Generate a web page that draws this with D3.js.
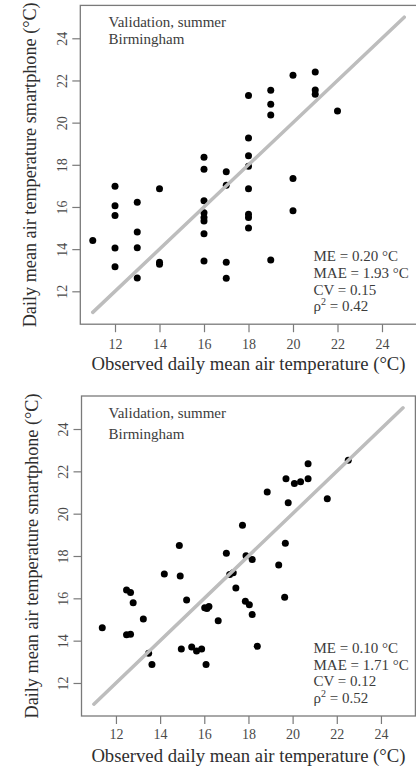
<!DOCTYPE html>
<html>
<head>
<meta charset="utf-8">
<script src="https://cdn.jsdelivr.net/npm/d3@7"></script>
<style>
    body { margin: 0; background: #fff; }
    svg text { font-family: "Liberation Serif", "Times New Roman", serif; }
</style>
</head>
<body>
<div id="my_dataviz"></div>
<script>
// panel 1 : observed (x) vs smartphone (y)
var obs1 = [11, 12, 12, 12, 12, 12, 13, 13, 13, 13, 14, 14, 14,
    16, 16, 16, 16, 16, 16, 16, 16, 17, 17, 17, 17,
    18, 18, 18, 18, 18, 18, 18, 18, 19, 19, 19, 19,
    20, 20, 20, 21, 21, 21, 22];
var phone1 = [14.41, 16.98, 16.06, 15.59, 14.05, 13.17, 16.22, 14.81, 14.06, 12.63, 16.87, 13.38, 13.28,
    18.36, 17.79, 16.29, 15.72, 15.50, 15.33, 14.73, 13.44, 17.67, 17.03, 13.38, 12.62,
    21.29, 19.27, 18.43, 17.93, 16.86, 15.66, 15.50, 15.0, 21.54, 20.87, 20.36, 13.49,
    22.25, 17.35, 15.82, 22.40, 21.55, 21.35, 20.55];

// panel 2
var obs2 = [20.70, 19.70, 20.70, 20.08, 20.36, 18.85, 19.80, 21.57, 22.52, 17.73,
    14.87, 17.0, 17.89, 18.17, 19.67, 19.37, 14.19, 14.91, 17.31, 17.15,
    17.43, 12.48, 12.66, 12.78, 15.20, 16.02, 16.21, 16.12, 16.63, 17.86,
    18.04, 18.17, 19.64, 13.24, 11.38, 12.48, 12.66, 13.48, 13.63, 14.96,
    15.43, 15.65, 15.88, 16.08, 18.40];
var phone2 = [22.36, 21.65, 21.65, 21.43, 21.51, 21.02, 20.52, 20.71, 22.53, 19.45,
    18.50, 18.13, 18.01, 17.84, 18.60, 17.57, 17.15, 17.05, 17.21, 17.12,
    16.49, 16.39, 16.27, 15.79, 15.92, 15.56, 15.61, 15.52, 14.94, 15.86,
    15.70, 15.23, 16.05, 15.02, 14.61, 14.28, 14.30, 13.40, 12.87, 13.61,
    13.70, 13.51, 13.61, 12.87, 13.73];

var ticks = [12, 14, 16, 18, 20, 22, 24];
var oneToOne = [11, 25];
var titles = ["Validation, summer", "Birmingham"];
var stats1 = ["ME = 0.20 °C", "MAE = 1.93 °C", "CV = 0.15", "0.42"];
var stats2 = ["ME = 0.10 °C", "MAE = 1.71 °C", "CV = 0.12", "0.52"];

var xLabel = "Observed daily mean air temperature (°C)";
var yLabel = "Daily mean air temperature smartphone (°C)";

var width = 416, height = 766;

var svg = d3.select("#my_dataviz")
    .append("svg")
    .attr("width", width)
    .attr("height", height);

// pixel boxes for the two panels (R style axis, 4% padding round 11..25)
var panels = [
    { x: obs1, y: phone1, stats: stats1, left: 80.3, right: 416.7, top: 5.4, bottom: 324.2,
      tickY: 25, titleY: 27.3, titleGap: 17 },
    { x: obs2, y: phone2, stats: stats2, left: 81.5, right: 415.4, top: 396, bottom: 716,
      tickY: 22.5, titleY: 417.7, titleGap: 21.6 }
];

panels.forEach(p => {
    var x = d3.scaleLinear().domain([10.44, 25.56]).range([p.left, p.right]);
    var y = d3.scaleLinear().domain([10.44, 25.56]).range([p.bottom, p.top]);

    var g = svg.append("g");

    // frame
    g.append("rect")
        .attr("x", p.left)
        .attr("y", p.top)
        .attr("width", p.right - p.left)
        .attr("height", p.bottom - p.top)
        .attr("fill", "none")
        .attr("stroke", "#7a7a7a")
        .attr("stroke-width", 1.3);

    // x axis
    var gx = g.append("g")
        .attr("transform", "translate(0," + p.bottom + ")")
        .call(d3.axisBottom(x).tickValues(ticks).tickSize(8).tickSizeOuter(0));
    gx.select(".domain").remove();
    gx.selectAll("line").attr("stroke", "#7a7a7a").attr("stroke-width", 1.2);
    gx.selectAll("text")
        .attr("y", p.tickY)
        .attr("dy", null)
        .attr("fill", "#4a4a4a")
        .style("font-size", "14px");

    // y axis, labels turned like R
    var gy = g.append("g")
        .attr("transform", "translate(" + p.left + ",0)")
        .call(d3.axisLeft(y).tickValues(ticks).tickSize(8).tickSizeOuter(0));
    gy.select(".domain").remove();
    gy.selectAll("line").attr("stroke", "#7a7a7a").attr("stroke-width", 1.2);
    gy.selectAll("text")
        .attr("transform", "rotate(-90)")
        .attr("x", 0)
        .attr("y", -13.5)
        .attr("dy", null)
        .attr("text-anchor", "middle")
        .attr("fill", "#4a4a4a")
        .style("font-size", "14px");

    // points
    g.selectAll("circle")
        .data(p.x)
        .enter()
        .append("circle")
        .attr("cx", (d, i) => x(d))
        .attr("cy", (d, i) => y(p.y[i]))
        .attr("r", 3.5)
        .attr("fill", "#000");

    // 1:1 line on top of the points
    g.append("line")
        .attr("x1", x(oneToOne[0]))
        .attr("y1", y(oneToOne[0]))
        .attr("x2", x(oneToOne[1]))
        .attr("y2", y(oneToOne[1]))
        .attr("stroke", "#bdbdbd")
        .attr("stroke-width", 3.5)
        .attr("stroke-linecap", "round");

    // title block
    titles.forEach((t, i) => {
        g.append("text")
            .attr("x", 108.5)
            .attr("y", p.titleY + i * p.titleGap)
            .attr("fill", "#3c3c3c")
            .style("font-size", "15px")
            .text(t);
    });

    // stats block
    p.stats.forEach((s, i) => {
        var t = g.append("text")
            .attr("x", 313.5)
            .attr("y", p.bottom - 63 + i * 16.7)
            .attr("fill", "#3c3c3c")
            .style("font-size", "15px");
        if (i < 3) {
            t.text(s);
        } else {
            t.append("tspan").text("ρ");
            t.append("tspan").attr("dy", -6).style("font-size", "10px").text("2");
            t.append("tspan").attr("dy", 6).text(" = " + s);
        }
    });

    // axis titles
    g.append("text")
        .attr("x", (p.left + p.right) / 2)
        .attr("y", p.bottom + 46)
        .attr("text-anchor", "middle")
        .attr("fill", "#2e2e2e")
        .style("font-size", "18.7px")
        .text(xLabel);

    g.append("text")
        .attr("transform", "translate(" + (p.left - 44) + "," + ((p.top + p.bottom) / 2) + ") rotate(-90)")
        .attr("text-anchor", "middle")
        .attr("fill", "#2e2e2e")
        .style("font-size", "18.2px")
        .text(yLabel);
});
</script>
</body>
</html>
